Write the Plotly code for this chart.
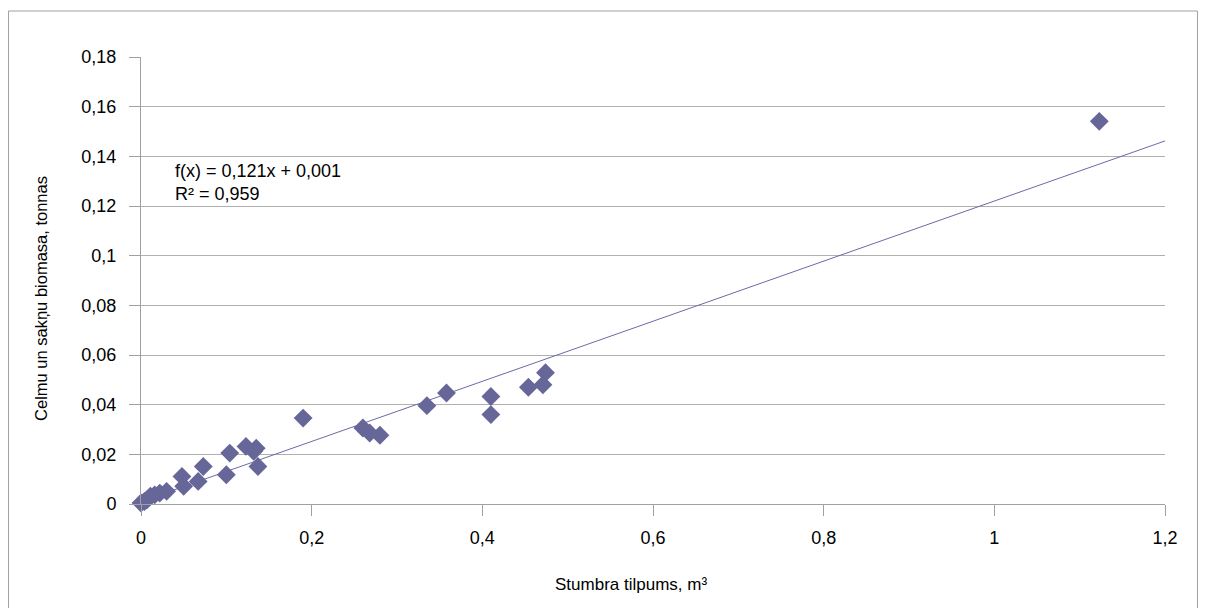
import plotly.graph_objects as go

# Data
stem_volume = [0.000, 0.004, 0.007, 0.011, 0.016, 0.022, 0.030,
               0.048, 0.050, 0.067, 0.073, 0.100, 0.104, 0.123,
               0.132, 0.135, 0.137, 0.190, 0.260, 0.268, 0.280,
               0.335, 0.358, 0.410, 0.410, 0.454, 0.471, 0.474, 1.123]
biomass = [0.0004, 0.0010, 0.0017, 0.0031, 0.0037, 0.0044, 0.0051,
           0.0111, 0.0071, 0.0091, 0.0151, 0.0118, 0.0205, 0.0232,
           0.0212, 0.0225, 0.0151, 0.0346, 0.0306, 0.0286, 0.0277,
           0.0396, 0.0447, 0.0433, 0.0360, 0.0470, 0.0480, 0.0529, 0.1541]

trend_slope = 0.121
trend_intercept = 0.001
r_squared = 0.959
x_range = [0, 1.2]
y_range = [0, 0.18]

x_title = "Stumbra tilpums, m³"
y_title = "Celmu un sakņu biomasa, tonnas"

font_family = "Liberation Sans, Arial, sans-serif"
FS = 18

trend_x = x_range
trend_y = [trend_slope * v + trend_intercept for v in trend_x]

fig = go.Figure()
fig.add_trace(go.Scatter(
    x=trend_x, y=trend_y, mode="lines",
    line=dict(color="#6a6aa6", width=1),
    hoverinfo="skip", showlegend=False, cliponaxis=False,
))
fig.add_trace(go.Scatter(
    x=stem_volume, y=biomass, mode="markers",
    marker=dict(symbol="diamond", size=14.5, color="#666699", line=dict(width=0)),
    showlegend=False, cliponaxis=False,
))

fmt = lambda v: f"{v:.3f}".replace(".", ",")
fig.add_annotation(
    x=0.038, y=0.1293, xref="x", yref="y",
    text=f"f(x) = {fmt(trend_slope)}x + {fmt(trend_intercept)}<br>R² = {fmt(r_squared)}",
    showarrow=False, xanchor="left", yanchor="middle", align="left",
    font=dict(family=font_family, size=FS, color="#000000"),
)

# axis titles (positioned as in the reference)
fig.add_annotation(
    x=0.4785, y=-0.1812, xref="paper", yref="paper", text=x_title,
    showarrow=False, xanchor="center", yanchor="middle",
    font=dict(family=font_family, size=17, color="#000000"),
)
fig.add_annotation(
    x=-0.0977, y=0.4609, xref="paper", yref="paper", text=y_title,
    textangle=-90, showarrow=False, xanchor="center", yanchor="middle",
    font=dict(family=font_family, size=16.5, color="#000000"),
)

# outer chart border (bottom edge falls outside the visible page)
fig.add_shape(type="rect", xref="paper", yref="paper",
              x0=-0.1294, x1=1.0317, y0=-0.27, y1=1.1029,
              line=dict(color="#a0a0a0", width=1), fillcolor="rgba(0,0,0,0)", layer="below")

axis_common = dict(
    showline=True, linecolor="#a0a0a0", linewidth=1,
    ticks="outside", ticklen=11, tickcolor="#a0a0a0", tickwidth=1,
    zeroline=False,
    tickfont=dict(family=font_family, size=FS, color="#000000"),
)

fig.update_layout(
    width=1207, height=608,
    margin=dict(l=133, r=50, t=49, b=112),
    paper_bgcolor="white", plot_bgcolor="white",
    separators=", ",
    font=dict(family=font_family, size=FS, color="#000000"),
    xaxis=dict(range=x_range, dtick=0.2, showgrid=False, ticklabelstandoff=6,
               **axis_common),
    yaxis=dict(range=y_range, dtick=0.02, showgrid=True, gridcolor="#b0b0b0", gridwidth=1,
               ticklabelstandoff=9, **axis_common),
)

fig.write_html("out.html")
